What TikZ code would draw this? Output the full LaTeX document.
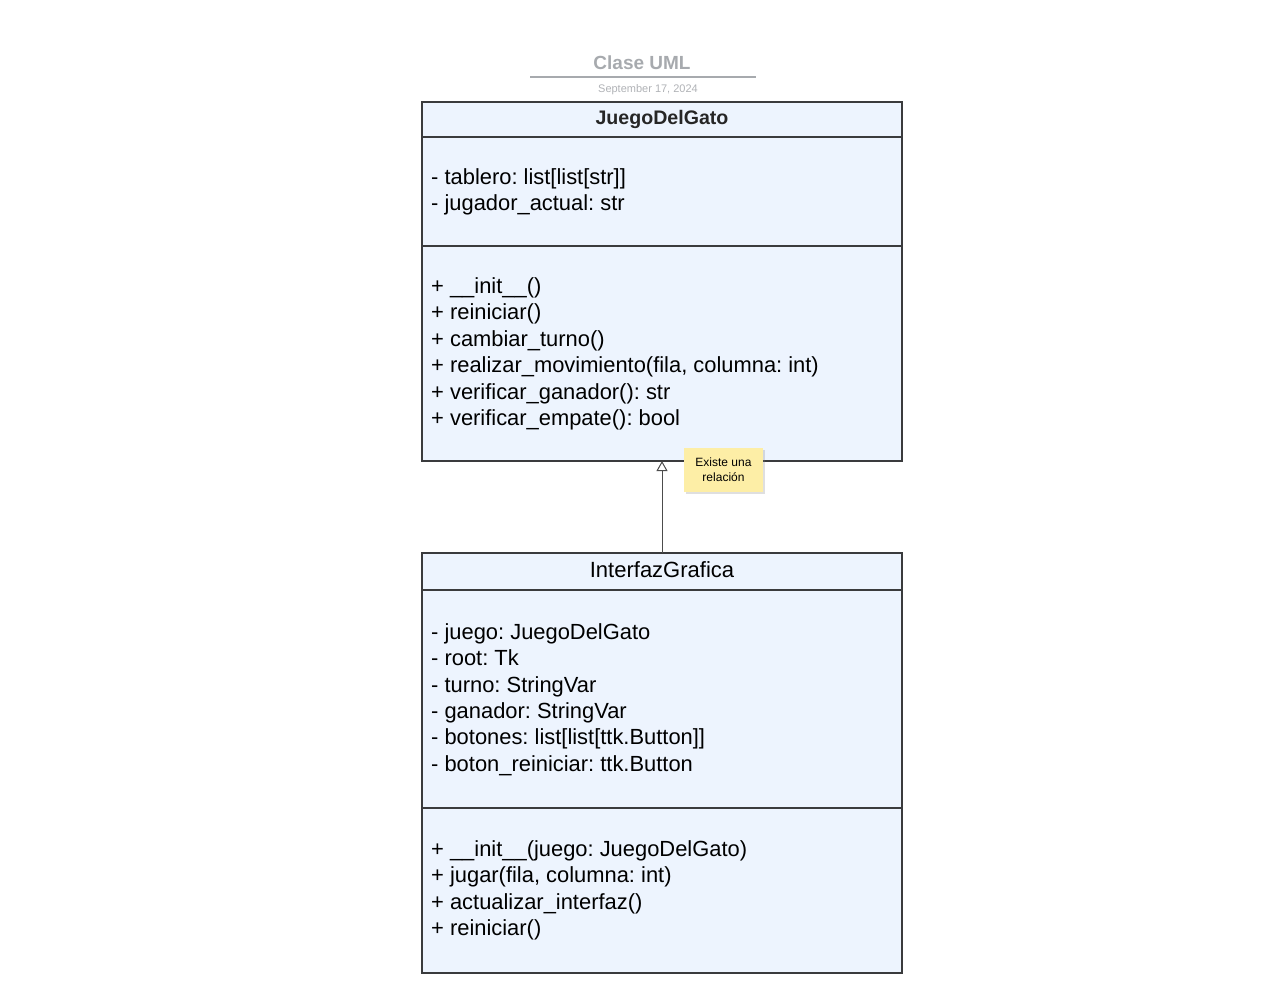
\documentclass[tikz,border=0pt]{standalone}
\usepackage{fontspec}
\setmainfont{Liberation Sans}
\usetikzlibrary{arrows.meta,shadows}
\frenchspacing
\definecolor{boxfill}{HTML}{EDF4FE}
\definecolor{boxline}{HTML}{3A3B3D}
\definecolor{titlegray}{HTML}{A7AAAE}
\definecolor{notefill}{HTML}{FDEEA6}
\tikzset{
  classbox/.style={draw=boxline, fill=boxfill, line width=1.6pt, minimum width=480pt, inner sep=0pt, outer sep=0pt},
  member/.style={anchor=base west, inner sep=0pt, font=\fontsize{21.9}{26}\selectfont},
  divider/.style={draw=boxline, line width=1.6pt},
  sticky/.style={fill=notefill, minimum width=79pt, minimum height=44pt, inner sep=0pt, align=center,
    font=\fontsize{12}{15}\selectfont, drop shadow={opacity=0.25, shadow xshift=2pt, shadow yshift=-2pt}},
}
\begin{document}
\begin{tikzpicture}[x=1pt,y=-1pt]
\useasboundingbox (0,0) rectangle (1280,989);

% heading
\node[text=titlegray, font=\bfseries\fontsize{19}{22}\selectfont] (title) at (642,63) {Clase UML};
\draw[titlegray, line width=1.5pt] (530,77) coordinate (tl) -- (756,77) coordinate (tr);
\node[text=titlegray!90, font=\fontsize{11}{13}\selectfont] (date) at (648,89.5) {September 17, 2024};

% class JuegoDelGato
\node[classbox, minimum height=359pt] (juego) at (662,281.5) {};
\draw[divider] (422,137) -- (902,137);
\draw[divider] (422,246) -- (902,246);
\node[font=\bfseries\fontsize{19.6}{22}\selectfont, text=black!85] (jname) at (662,119) {JuegoDelGato};
\node[member] (ja1) at (431,184) {- tablero: list[list[str]]};
\node[member] (ja2) at (431,210) {- jugador\_actual: str};
\node[member] (jm1) at (431,293) {+ \_\_init\_\_()};
\node[member] (jm2) at (431,319) {+ reiniciar()};
\node[member] (jm3) at (431,346) {+ cambiar\_turno()};
\node[member] (jm4) at (431,372) {+ realizar\_movimiento(fila, columna: int)};
\node[member] (jm5) at (431,399) {+ verificar\_ganador(): str};
\node[member] (jm6) at (431,425) {+ verificar\_empate(): bool};

% class InterfazGrafica
\node[classbox, minimum height=420pt] (interfaz) at (662,763) {};
\draw[divider] (422,590) -- (902,590);
\draw[divider] (422,808) -- (902,808);
\node[font=\fontsize{22}{26}\selectfont] (iname) at (662,570) {InterfazGrafica};
\node[member] (ia1) at (431,639) {- juego: JuegoDelGato};
\node[member] (ia2) at (431,665) {- root: Tk};
\node[member] (ia3) at (431,692) {- turno: StringVar};
\node[member] (ia4) at (431,718) {- ganador: StringVar};
\node[member] (ia5) at (431,744) {- botones: list[list[ttk.Button]]};
\node[member] (ia6) at (431,771) {- boton\_reiniciar: ttk.Button};
\node[member] (im1) at (431,856) {+ \_\_init\_\_(juego: JuegoDelGato)};
\node[member] (im2) at (431,882) {+ jugar(fila, columna: int)};
\node[member] (im3) at (431,909) {+ actualizar\_interfaz()};
\node[member] (im4) at (431,935) {+ reiniciar()};

% generalisation
\draw[black!70, line width=1pt, -{Triangle[open, length=10pt, width=11pt]}] (interfaz.north) -- (juego.south);

% note
\node[sticky] (note) at (723.5,470) {Existe una\\relación};
\end{tikzpicture}
\end{document}
